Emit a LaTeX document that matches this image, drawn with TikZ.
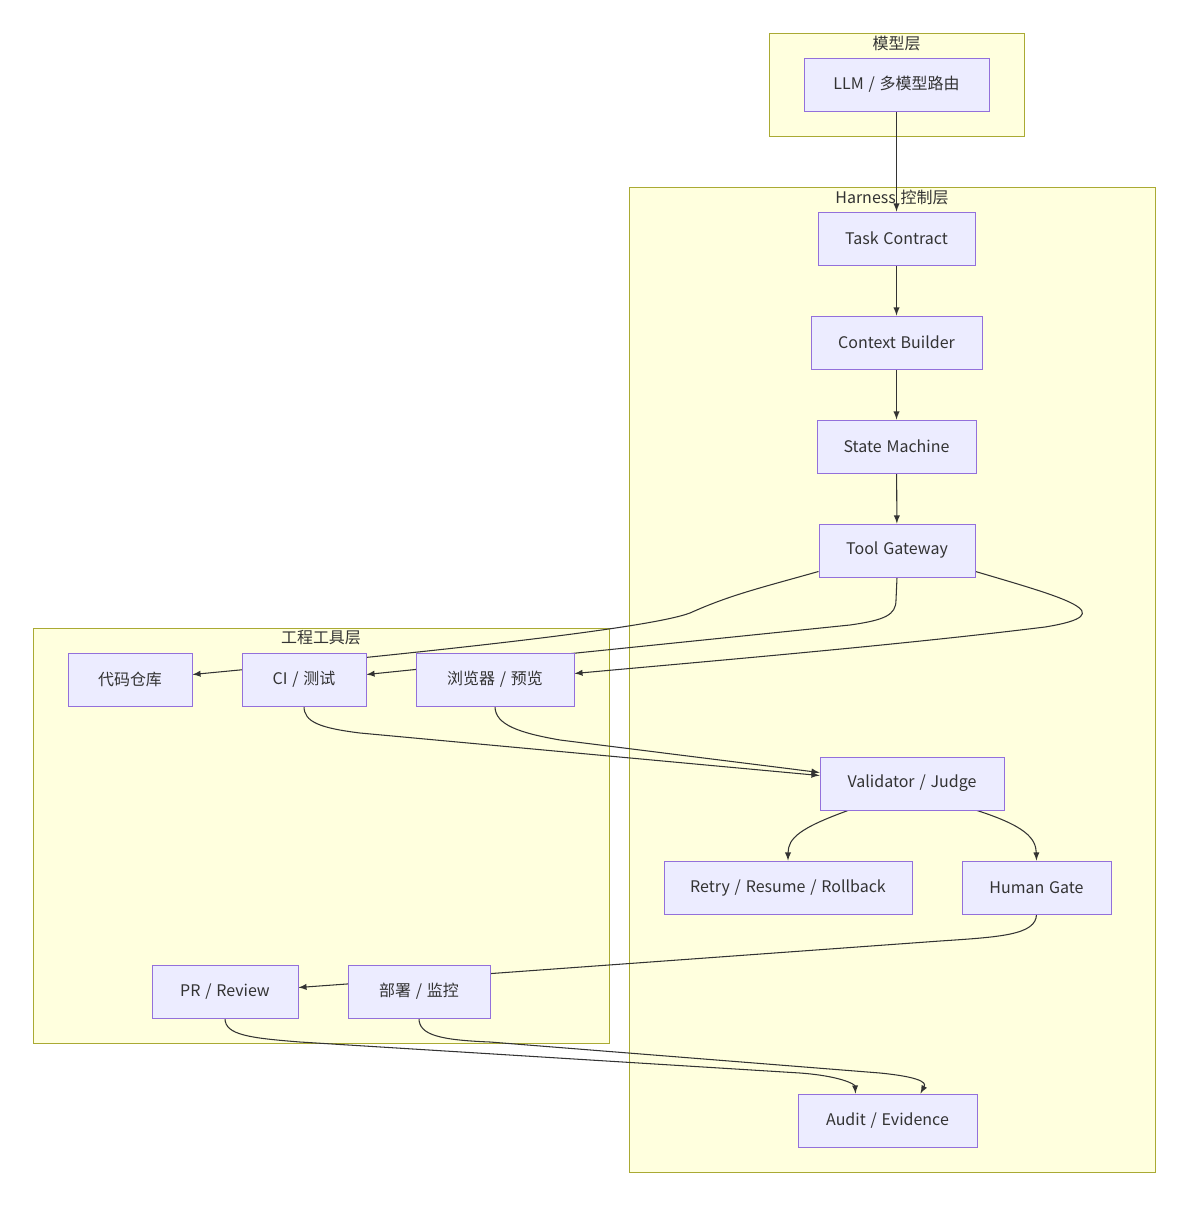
\documentclass[tikz,border=0pt]{standalone}
\usepackage{fontspec}
\setmainfont[WordSpace=1.35]{Noto Sans CJK SC}
\usetikzlibrary{calc}
\definecolor{grpfill}{HTML}{FFFFDE}
\definecolor{grpline}{HTML}{AAAA33}
\definecolor{boxfill}{HTML}{ECECFF}
\definecolor{boxline}{HTML}{9370DB}
\definecolor{ink}{HTML}{333333}
\pgfdeclarelayer{grplayer}
\pgfdeclarelayer{edgelayer}
\pgfsetlayers{grplayer,edgelayer,main}
\tikzset{
  box/.style={draw=boxline,fill=boxfill,line width=0.55pt,text=ink,inner sep=0pt},
  grp/.style={draw=grpline,fill=grpfill,line width=0.55pt},
  grptitle/.style={text=ink,inner sep=0pt},
  link/.style={draw=ink,line width=0.6pt,-latex},
}
% box from pixel corners: name, x1, y1, x2, y2, text
\newcommand\pxbox[6]{\node[box,minimum width={(#4-#2)*0.02cm},minimum height={(#5-#3)*0.02cm}](#1)at({(#2+#4)/2},{(#3+#5)/2}){#6};}
\begin{document}
\begin{tikzpicture}[x=0.02cm,y=-0.02cm,font=\fontsize{9.1pt}{11pt}\selectfont]
\useasboundingbox(0,0)rectangle(1188,1206);
% layers (groups)
\begin{pgfonlayer}{grplayer}
\draw[grp](769,33)rectangle(1024,136);
\draw[grp](629,187)rectangle(1155,1172);
\draw[grp](33,628)rectangle(609,1043);
\end{pgfonlayer}
\node[grptitle](tModel)at(896.5,43){模型层};
\node[grptitle](tHarness)at(892,197){Harness 控制层};
\node[grptitle](tTools)at(321,638){工程工具层};
% nodes
\pxbox{llm}{804}{58}{989}{111}{LLM / 多模型路由}
\pxbox{task}{818}{212}{975}{265}{Task Contract}
\pxbox{ctx}{811}{316}{982}{369}{Context Builder}
\pxbox{state}{817}{420}{976}{473}{State Machine}
\pxbox{tool}{819}{524}{975}{577}{Tool Gateway}
\pxbox{valid}{820}{757}{1004}{810}{Validator / Judge}
\pxbox{retry}{664}{861}{912}{914}{Retry / Resume / Rollback}
\pxbox{human}{962}{861}{1111}{914}{Human Gate}
\pxbox{audit}{798}{1094}{977}{1147}{Audit / Evidence}
\pxbox{repo}{68}{653}{192}{706}{代码仓库}
\pxbox{ci}{242}{653}{366}{706}{CI / 测试}
\pxbox{brow}{416}{653}{574}{706}{浏览器 / 预览}
\pxbox{pr}{152}{965}{298}{1018}{PR / Review}
\pxbox{deploy}{348}{965}{490}{1018}{部署 / 监控}
% edges
\begin{pgfonlayer}{edgelayer}
\draw[link](llm)--(task);
\draw[link](task)--(ctx);
\draw[link](ctx)--(state);
\draw[link](state)--(tool);
\draw[link]($(tool.south west)+(0,-6)$)..controls(760,588)and(730,595)..(690,613)
  ..controls(650,628)and(450,650)..($(repo.east)+(0,-5)$);
\draw[link](tool.south)--(896,600)..controls(896,615)and(885,620)..(850,625)--($(ci.east)+(0,-5)$);
\draw[link]($(tool.south east)+(0,-6)$)..controls(1065,598)and(1125,614)..(1045,627)
  ..controls(900,645)and(700,662)..($(brow.east)+(0,-6)$);
\draw[link](ci.south)..controls(304,722)and(320,728)..(360,733)--($(valid.west)+(0,-8)$);
\draw[link](brow.south)..controls(495,725)and(520,733)..(560,740)--($(valid.west)+(0,-11)$);
\draw[link]($(valid.south)+(-64,0)$)..controls(800,828)and(788,838)..(retry.north);
\draw[link]($(valid.south)+(65,0)$)..controls(1025,826)and(1036,838)..(human.north);
\draw[link](human.south)..controls(1036,935)and(1000,937)..(940,941)--($(pr.east)+(0,-4)$);
\draw[link](pr.south)..controls(225,1035)and(250,1038)..(300,1042)--(800,1073)
  ..controls(840,1076)and(855,1084)..($(audit.north)+(-32,0)$);
\draw[link](deploy.south)..controls(419,1035)and(440,1040)..(490,1042)--(880,1073)
  ..controls(930,1078)and(925,1085)..($(audit.north)+(33,0)$);
\end{pgfonlayer}
\end{tikzpicture}
\end{document}
